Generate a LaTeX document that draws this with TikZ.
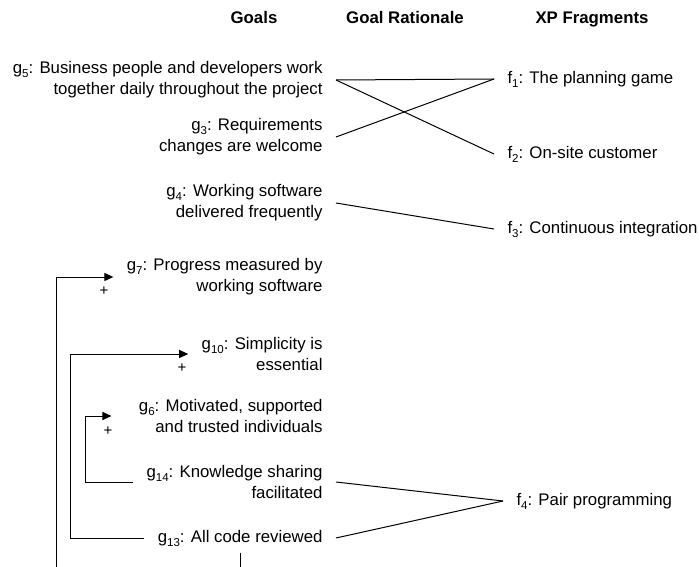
\documentclass[tikz,border=0pt]{standalone}
\usepackage{fontspec}
\setmainfont{Liberation Sans}
\usetikzlibrary{arrows.meta}
\newcommand\figfont{\fontsize{16.8}{21}\selectfont}
\newcommand\idx[1]{\raisebox{-4pt}{\fontsize{11.5}{11.5}\selectfont #1}}
\begin{document}
\begin{tikzpicture}[x=1pt,y=-1pt,line width=1pt,
    goal/.style={font=\figfont,anchor=east,align=right,inner xsep=13pt,inner ysep=6pt},
    frag/.style={font=\figfont,anchor=west,inner xsep=13pt},
    head/.style={font=\figfont\bfseries,anchor=base},
    plus/.style={font=\fontsize{15}{15}\selectfont,inner sep=0pt},
    arr/.style={-{Triangle[length=9pt,width=8pt]}}]
    \useasboundingbox (0,0) rectangle (699,567);

    \node[head] (hgoal) at (254,24) {Goals};
    \node[head] (hrat) at (405,24) {Goal Rationale};
    \node[head] (hxp) at (592,24) {XP Fragments};

    \node[goal] (g5) at (336,80) {g\idx{5}: Business people and developers work\\together daily throughout the project};
    \node[goal] (g3) at (336,137) {g\idx{3}: Requirements\\changes are welcome};
    \node[goal] (g4) at (336,203) {g\idx{4}: Working software\\delivered frequently};
    \node[goal] (g7) at (336,277) {g\idx{7}: Progress measured by\\working software};
    \node[goal] (g10) at (336,354) {g\idx{10}: Simplicity is\\essential};
    \node[goal] (g6) at (336,416) {g\idx{6}: Motivated, supported\\and trusted individuals};
    \node[goal] (g14) at (336,482) {g\idx{14}: Knowledge sharing\\facilitated};
    \node[goal] (g13) at (336,538) {g\idx{13}: All code reviewed};

    \node[frag] (f1) at (494,79) {f\idx{1}: The planning game};
    \node[frag] (f2) at (494,154) {f\idx{2}: On-site customer};
    \node[frag] (f3) at (494,229) {f\idx{3}: Continuous integration};
    \node[frag] (f4) at (503,501) {f\idx{4}: Pair programming};

    \draw (g5.east) -- (f1.west);
    \draw (g5.east) -- (f2.west);
    \draw (g3.east) -- (f1.west);
    \draw (g4.east) -- (f3.west);
    \draw (g14.east) -- (f4.west);
    \draw (g13.east) -- (f4.west);

    \path (85,0) coordinate (b6);
    \path (70,0) coordinate (b10);
    \path (56,567) coordinate (b7);
    \path (239,567) coordinate (cut);

    \draw[arr] (g14.west) -- (g14.west -| b6) |- ([xshift=-14pt]g6.west);
    \draw[arr] (g13.west) -- (g13.west -| b10) |- (g10.west);
    \draw[arr] (b7) |- (g7.west);
    \draw (g13.south) -- (g13.south |- cut);

    \node[plus] (p7) at (104,291) {+};
    \node[plus] (p10) at (182,368) {+};
    \node[plus] (p6) at (108,431) {+};
\end{tikzpicture}
\end{document}
